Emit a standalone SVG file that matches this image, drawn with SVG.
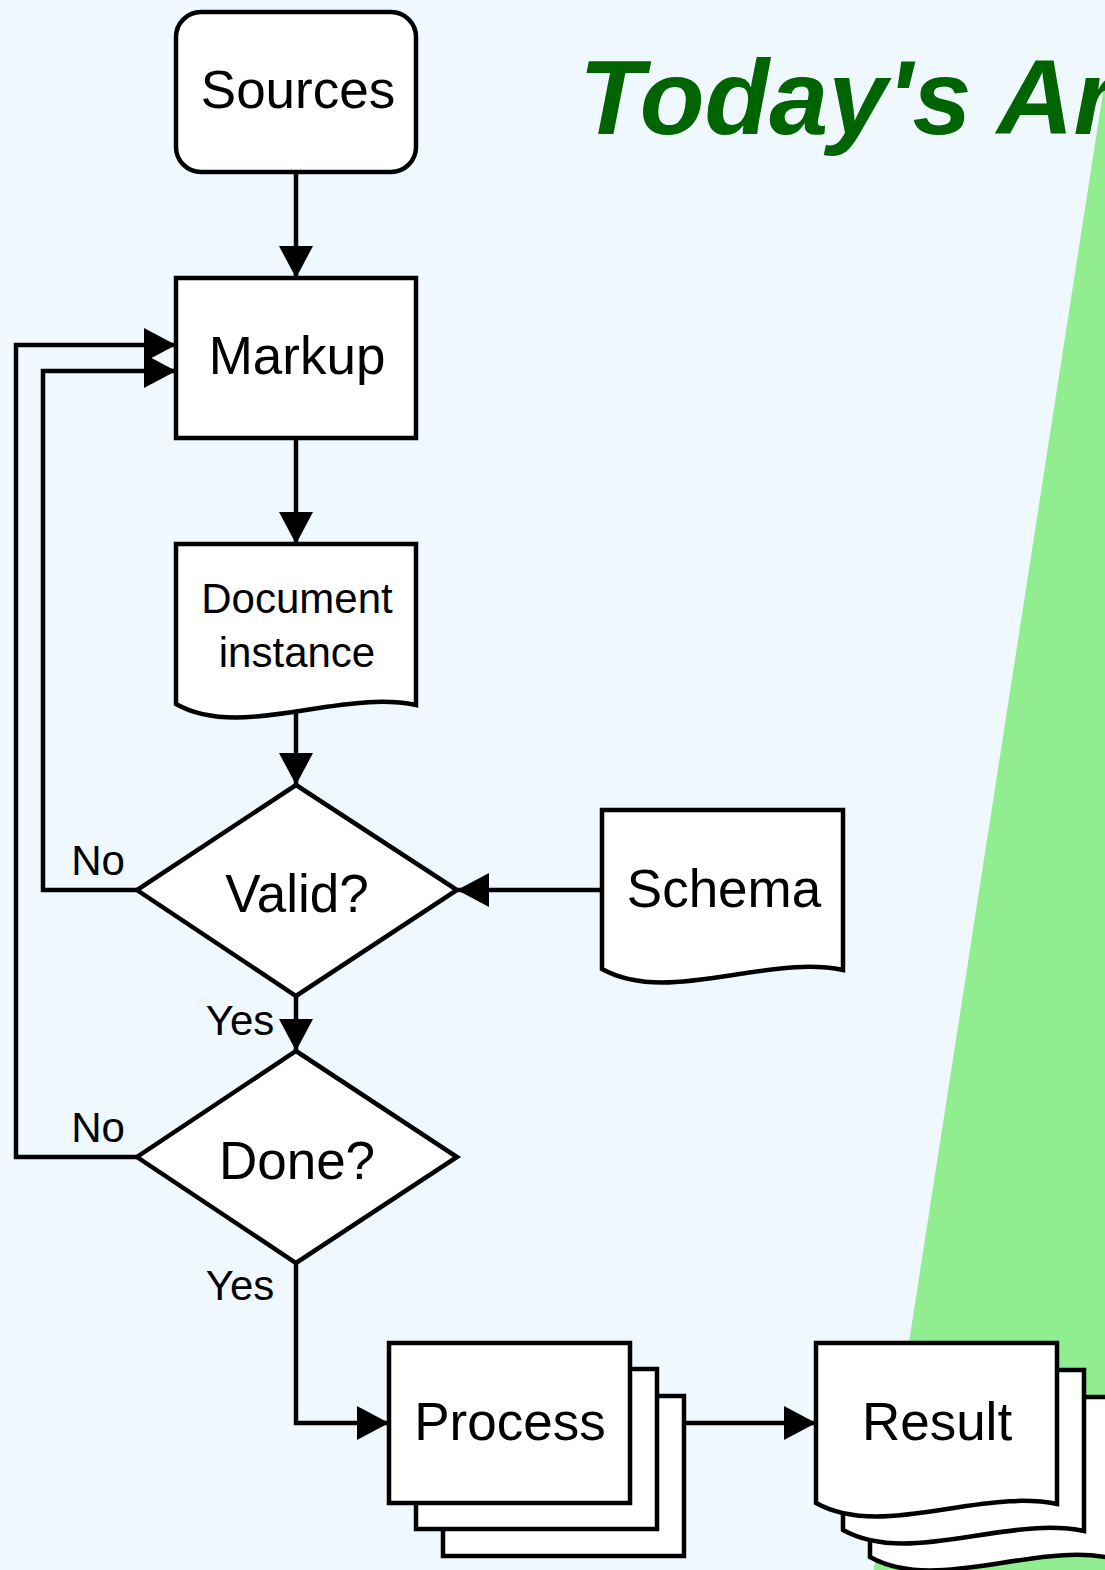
<svg xmlns="http://www.w3.org/2000/svg" width="1105" height="1570" viewBox="0 0 1105 1570">
  <style>
    .shape { fill: #ffffff; stroke: #000000; stroke-width: 4.5; }
    .conn { fill: none; stroke: #000000; stroke-width: 4.5; }
    .lbl { font-family: "Liberation Sans", Arial, sans-serif; font-size: 53px; fill: #000000; text-anchor: middle; }
    .small { font-family: "Liberation Sans", Arial, sans-serif; font-size: 42px; fill: #000000; }
    .title { font-family: "Liberation Sans", Arial, sans-serif; font-size: 106px; font-weight: bold; font-style: italic; fill: #006400; }
  </style>
  <defs>
    <marker id="arrow" markerUnits="userSpaceOnUse" markerWidth="32" markerHeight="34" refX="31" refY="17" orient="auto">
      <path d="M0,0 L32,17 L0,34 Z" fill="#000000"/>
    </marker>
  </defs>
  <rect x="0" y="0" width="1105" height="1570" fill="#F0F8FF"/>
  <polygon points="1104,86 1300,86 1300,1600 869,1600" fill="#90EE90"/>
  <text class="title" x="579" y="134">Today's Ar</text>

  <g id="connectors">
    <line class="conn" x1="296" y1="172" x2="296" y2="277" marker-end="url(#arrow)"/>
    <line class="conn" x1="296" y1="438" x2="296" y2="543" marker-end="url(#arrow)"/>
    <line class="conn" x1="296" y1="712" x2="296" y2="784" marker-end="url(#arrow)"/>
    <line class="conn" x1="296" y1="996" x2="296" y2="1050" marker-end="url(#arrow)"/>
    <line class="conn" x1="602" y1="890" x2="458" y2="890" marker-end="url(#arrow)"/>
    <polyline class="conn" points="137,890 43,890 43,371 175,371" marker-end="url(#arrow)"/>
    <polyline class="conn" points="137,1157 16,1157 16,345 175,345" marker-end="url(#arrow)"/>
    <polyline class="conn" points="296,1263 296,1423 388,1423" marker-end="url(#arrow)"/>
    <line class="conn" x1="684" y1="1423" x2="815" y2="1423" marker-end="url(#arrow)"/>
    <text class="small" x="98" y="875" text-anchor="middle">No</text>
    <text class="small" x="98" y="1142" text-anchor="middle">No</text>
    <text class="small" x="240" y="1035" text-anchor="middle">Yes</text>
    <text class="small" x="240" y="1300" text-anchor="middle">Yes</text>
  </g>

  <g id="sources">
    <rect class="shape" x="176" y="12" width="240" height="160" rx="25" ry="25"/>
    <text class="lbl" x="298" y="108">Sources</text>
  </g>

  <g id="markup">
    <rect class="shape" x="176" y="278" width="240" height="160"/>
    <text class="lbl" x="297" y="374">Markup</text>
  </g>

  <g id="document-instance">
    <path class="shape" d="M176,544 H416 V705 C386,699 356,702 306,710 C256,718 211,724 176,704 Z"/>
    <text class="lbl" x="297" y="613" style="font-size:42px">Document</text>
    <text class="lbl" x="297" y="667" style="font-size:42px">instance</text>
  </g>

  <g id="valid">
    <polygon class="shape" points="296,785 457,890 296,996 137,890"/>
    <text class="lbl" x="297" y="912">Valid?</text>
  </g>

  <g id="schema">
    <path class="shape" d="M602,810 H843 V970 C813,964 783,967 733,975 C683,983 638,989 602,969 Z"/>
    <text class="lbl" x="724" y="907">Schema</text>
  </g>

  <g id="done">
    <polygon class="shape" points="296,1051 457,1157 296,1263 137,1157"/>
    <text class="lbl" x="297" y="1179">Done?</text>
  </g>

  <g id="process">
    <rect class="shape" x="443" y="1396" width="241" height="160"/>
    <rect class="shape" x="416" y="1369" width="241" height="160"/>
    <rect class="shape" x="389" y="1343" width="241" height="160"/>
    <text class="lbl" x="510" y="1440">Process</text>
  </g>

  <g id="result">
    <path class="shape" d="M870,1397 H1111 V1558 C1081,1552 1051,1555 1001,1563 C951,1571 906,1577 870,1557 Z"/>
    <path class="shape" d="M843,1370 H1084 V1531 C1054,1525 1024,1528 974,1536 C924,1544 879,1550 843,1530 Z"/>
    <path class="shape" d="M816,1343 H1057 V1504 C1027,1498 997,1501 947,1509 C897,1517 852,1523 816,1503 Z"/>
    <text class="lbl" x="937" y="1440">Result</text>
  </g>
</svg>
